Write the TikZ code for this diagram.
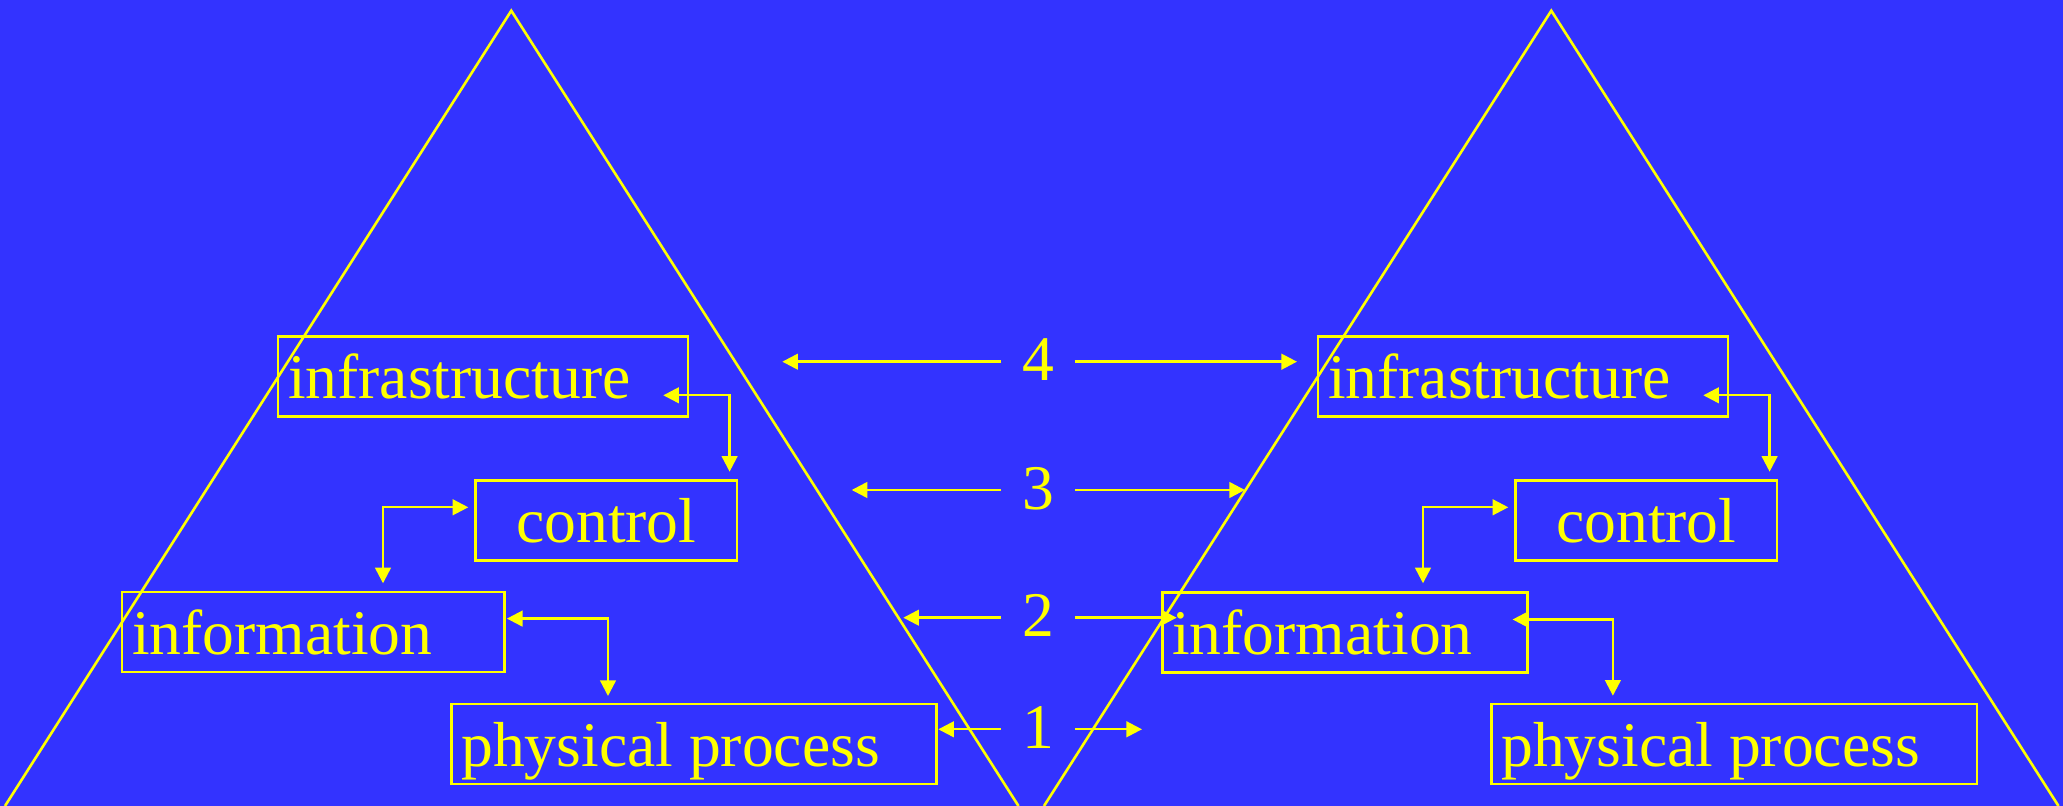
\documentclass[tikz,border=0pt]{standalone}
\usepackage{fontspec}
\setmainfont{Liberation Serif}
\usetikzlibrary{arrows.meta}
\definecolor{bgblue}{RGB}{51,51,255}
\definecolor{ylw}{RGB}{255,255,0}
\begin{document}
\begin{tikzpicture}[x=0.5pt,y=-0.5pt,
  bigfont/.style={font=\fontsize{31.8pt}{38pt}\selectfont},
  box/.style={draw=ylw, line width=1.3pt, inner xsep=5pt, inner ysep=0pt,
    minimum height=40pt, text height=22.25pt, text depth=0pt,
    anchor=north west, align=flush left, text=ylw, bigfont},
  num/.style={text=ylw, bigfont, inner sep=0pt, minimum width=36.5pt,
    text height=19.3pt, text depth=0pt},
  tri/.style={draw=ylw, line width=1.3pt},
  tipA/.tip={Triangle[width=7.8pt,length=7.8pt]},
  arr/.style={-tipA, draw=ylw, line width=1.2pt},
  dbl/.style={tipA-tipA, draw=ylw, line width=1.2pt}]
\useasboundingbox (0,0) rectangle (2063,806);
\fill[bgblue] (0,0) rectangle (2063,806);
% triangles
\coordinate (apexL) at (511.3,10.7);
\coordinate (apexR) at (1551.3,10.7);
\draw[tri] (5,806) -- (apexL) -- (1018.5,806);
\draw[tri] (1044,806) -- (apexR) -- (2058.5,806);
% left pyramid boxes
\node[box, text width=195pt, minimum width=205pt] (infraL) at (276.7,335) {infrastructure};
\node[box, text width=120.7pt, minimum width=130.7pt, align=flush center] (controlL) at (474.3,479) {control};
\node[box, text width=181.3pt, minimum width=191.3pt] (infoL) at (120.7,590.7) {information};
\node[box, text width=232.5pt, minimum width=242.5pt] (physL) at (450,702.7) {physical process};
% right pyramid boxes
\node[box, text width=195pt, minimum width=205pt] (infraR) at (1316.7,335) {infrastructure};
\node[box, text width=120.7pt, minimum width=130.7pt, align=flush center] (controlR) at (1514.3,479) {control};
\node[box, text width=172.5pt, minimum width=182.5pt] (infoR) at (1161,591) {information};
\node[box, text width=232.8pt, minimum width=242.8pt] (physR) at (1490,702.7) {physical process};
% inner connectors left
\draw[dbl] ([shift={(-26,19)}]infraL.east) -| ([shift={(123.3,-7.3)}]controlL.north);
\draw[dbl] ([shift={(-6,-13)}]controlL.west) -| ([shift={(69.7,-7.4)}]infoL.north);
\draw[dbl] ([shift={(1,-13.4)}]infoL.east) -| ([shift={(-85.8,-6.7)}]physL.north);
% inner connectors right
\draw[dbl] ([shift={(-26,19)}]infraR.east) -| ([shift={(123.3,-7.3)}]controlR.north);
\draw[dbl] ([shift={(-6,-13)}]controlR.west) -| ([shift={(78.2,-7.7)}]infoR.north);
\draw[dbl] ([shift={(-16,-12.8)}]infoR.east) -| ([shift={(-121.2,-7)}]physR.north);
% level numbers
\node[num] (n4) at (1038,361.7) {4};
\node[num] (n3) at (1038,490) {3};
\node[num] (n2) at (1038,617.7) {2};
\node[num] (n1) at (1038,729.3) {1};
\coordinate (t4L) at (782.3,361.7);
\coordinate (t4R) at (1297,361.7);
\coordinate (t3L) at (851.7,490);
\coordinate (t3R) at (1245,490);
\coordinate (t2L) at (903.3,617.7);
\coordinate (t2R) at (1176.7,617.7);
\coordinate (t1L) at (938.3,729.3);
\coordinate (t1R) at (1142,729.3);
\draw[arr] (n4.west) -- (t4L);
\draw[arr] (n4.east) -- (t4R);
\draw[arr] (n3.west) -- (t3L);
\draw[arr] (n3.east) -- (t3R);
\draw[arr] (n2.west) -- (t2L);
\draw[arr] (n2.east) -- (t2R);
\draw[arr] (n1.west) -- (t1L);
\draw[arr] (n1.east) -- (t1R);
\end{tikzpicture}
\end{document}
